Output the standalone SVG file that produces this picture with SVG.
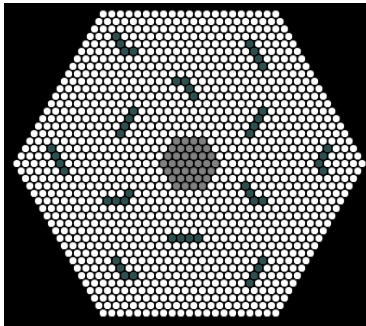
<svg xmlns="http://www.w3.org/2000/svg" width="366" height="326" viewBox="0 0 366 326">
<style>
.w{fill:#ffffff;stroke:#000000;stroke-width:1}
.g{fill:#808080;stroke:#000000;stroke-width:1}
.t{fill:#2f4f4f;stroke:#000000;stroke-width:1}
</style>
<rect x="0" y="0" width="366" height="326" fill="#ffffff"/>
<rect x="4" y="3" width="362" height="323" fill="#000000"/>
<g id="lattice" transform="translate(189.5,163.5)">
<defs>
<pattern id="pe" patternUnits="userSpaceOnUse" x="-4.315" y="-7.475" width="8.63" height="14.95"><circle cx="4.315" cy="7.475" r="4.1" class="w"/></pattern>
<pattern id="po" patternUnits="userSpaceOnUse" x="0" y="0" width="8.63" height="14.95"><circle cx="4.315" cy="7.475" r="4.1" class="w"/></pattern>
<pattern id="ge" patternUnits="userSpaceOnUse" x="-4.315" y="-7.475" width="8.63" height="14.95"><circle cx="4.315" cy="7.475" r="4.1" class="g"/></pattern>
<pattern id="go" patternUnits="userSpaceOnUse" x="0" y="0" width="8.63" height="14.95"><circle cx="4.315" cy="7.475" r="4.1" class="g"/></pattern>
</defs>
<g id="board">
<rect x="-90.615" y="-156.975" width="181.23" height="14.95" fill="url(#pe)"/>
<rect x="-94.93" y="-149.5" width="189.86" height="14.95" fill="url(#po)"/>
<rect x="-99.245" y="-142.025" width="198.49" height="14.95" fill="url(#pe)"/>
<rect x="-103.56" y="-134.55" width="207.12" height="14.95" fill="url(#po)"/>
<rect x="-107.875" y="-127.075" width="215.75" height="14.95" fill="url(#pe)"/>
<rect x="-112.19" y="-119.6" width="224.38" height="14.95" fill="url(#po)"/>
<rect x="-116.505" y="-112.125" width="233.01" height="14.95" fill="url(#pe)"/>
<rect x="-120.82" y="-104.65" width="241.64" height="14.95" fill="url(#po)"/>
<rect x="-125.135" y="-97.175" width="250.27" height="14.95" fill="url(#pe)"/>
<rect x="-129.45" y="-89.7" width="258.9" height="14.95" fill="url(#po)"/>
<rect x="-133.765" y="-82.225" width="267.53" height="14.95" fill="url(#pe)"/>
<rect x="-138.08" y="-74.75" width="276.16" height="14.95" fill="url(#po)"/>
<rect x="-142.395" y="-67.275" width="284.79" height="14.95" fill="url(#pe)"/>
<rect x="-146.71" y="-59.8" width="293.42" height="14.95" fill="url(#po)"/>
<rect x="-151.025" y="-52.325" width="302.05" height="14.95" fill="url(#pe)"/>
<rect x="-155.34" y="-44.85" width="310.68" height="14.95" fill="url(#po)"/>
<rect x="-159.655" y="-37.375" width="319.31" height="14.95" fill="url(#pe)"/>
<rect x="-163.97" y="-29.9" width="327.94" height="14.95" fill="url(#po)"/>
<rect x="-168.285" y="-22.425" width="336.57" height="14.95" fill="url(#pe)"/>
<rect x="-172.6" y="-14.95" width="345.2" height="14.95" fill="url(#po)"/>
<rect x="-176.915" y="-7.475" width="353.83" height="14.95" fill="url(#pe)"/>
<rect x="-172.6" y="0" width="345.2" height="14.95" fill="url(#po)"/>
<rect x="-168.285" y="7.475" width="336.57" height="14.95" fill="url(#pe)"/>
<rect x="-163.97" y="14.95" width="327.94" height="14.95" fill="url(#po)"/>
<rect x="-159.655" y="22.425" width="319.31" height="14.95" fill="url(#pe)"/>
<rect x="-155.34" y="29.9" width="310.68" height="14.95" fill="url(#po)"/>
<rect x="-151.025" y="37.375" width="302.05" height="14.95" fill="url(#pe)"/>
<rect x="-146.71" y="44.85" width="293.42" height="14.95" fill="url(#po)"/>
<rect x="-142.395" y="52.325" width="284.79" height="14.95" fill="url(#pe)"/>
<rect x="-138.08" y="59.8" width="276.16" height="14.95" fill="url(#po)"/>
<rect x="-133.765" y="67.275" width="267.53" height="14.95" fill="url(#pe)"/>
<rect x="-129.45" y="74.75" width="258.9" height="14.95" fill="url(#po)"/>
<rect x="-125.135" y="82.225" width="250.27" height="14.95" fill="url(#pe)"/>
<rect x="-120.82" y="89.7" width="241.64" height="14.95" fill="url(#po)"/>
<rect x="-116.505" y="97.175" width="233.01" height="14.95" fill="url(#pe)"/>
<rect x="-112.19" y="104.65" width="224.38" height="14.95" fill="url(#po)"/>
<rect x="-107.875" y="112.125" width="215.75" height="14.95" fill="url(#pe)"/>
<rect x="-103.56" y="119.6" width="207.12" height="14.95" fill="url(#po)"/>
<rect x="-99.245" y="127.075" width="198.49" height="14.95" fill="url(#pe)"/>
<rect x="-94.93" y="134.55" width="189.86" height="14.95" fill="url(#po)"/>
<rect x="-90.615" y="142.025" width="181.23" height="14.95" fill="url(#pe)"/>
</g>
<g id="core">
<rect x="-17.26" y="-29.9" width="34.52" height="14.95" fill="url(#go)"/>
<rect x="-21.575" y="-22.425" width="43.15" height="14.95" fill="url(#ge)"/>
<rect x="-25.89" y="-14.95" width="51.78" height="14.95" fill="url(#go)"/>
<rect x="-30.205" y="-7.475" width="60.41" height="14.95" fill="url(#ge)"/>
<rect x="-25.89" y="0" width="51.78" height="14.95" fill="url(#go)"/>
<rect x="-21.575" y="7.475" width="43.15" height="14.95" fill="url(#ge)"/>
<rect x="-17.26" y="14.95" width="34.52" height="14.95" fill="url(#go)"/>
</g>
<g id="seg1"><circle class="t" r="4.1" cx="-73.355" cy="-127.075"/><circle class="t" r="4.1" cx="-69.04" cy="-119.6"/><circle class="t" r="4.1" cx="-64.725" cy="-112.125"/><circle class="t" r="4.1" cx="-56.095" cy="-112.125"/></g>
<g id="seg2"><circle class="t" r="4.1" cx="-12.945" cy="-82.225"/><circle class="t" r="4.1" cx="-4.315" cy="-82.225"/><circle class="t" r="4.1" cx="0" cy="-74.75"/><circle class="t" r="4.1" cx="4.315" cy="-67.275"/></g>
<g id="seg3"><circle class="t" r="4.1" cx="-56.095" cy="-52.325"/><circle class="t" r="4.1" cx="-60.41" cy="-44.85"/><circle class="t" r="4.1" cx="-64.725" cy="-37.375"/><circle class="t" r="4.1" cx="-69.04" cy="-29.9"/></g>
<g id="seg4"><circle class="t" r="4.1" cx="-138.08" cy="-14.95"/><circle class="t" r="4.1" cx="-133.765" cy="-7.475"/><circle class="t" r="4.1" cx="-129.45" cy="0"/><circle class="t" r="4.1" cx="-125.135" cy="7.475"/></g>
<g id="seg5"><circle class="t" r="4.1" cx="60.41" cy="-119.6"/><circle class="t" r="4.1" cx="64.725" cy="-112.125"/><circle class="t" r="4.1" cx="69.04" cy="-104.65"/><circle class="t" r="4.1" cx="73.355" cy="-97.175"/></g>
<g id="seg6"><circle class="t" r="4.1" cx="73.355" cy="-52.325"/><circle class="t" r="4.1" cx="69.04" cy="-44.85"/><circle class="t" r="4.1" cx="64.725" cy="-37.375"/><circle class="t" r="4.1" cx="60.41" cy="-29.9"/></g>
<g id="seg7"><circle class="t" r="4.1" cx="138.08" cy="-14.95"/><circle class="t" r="4.1" cx="133.765" cy="-7.475"/><circle class="t" r="4.1" cx="129.45" cy="0"/><circle class="t" r="4.1" cx="133.765" cy="7.475"/></g>
<g id="seg8"><circle class="t" r="4.1" cx="-60.41" cy="29.9"/><circle class="t" r="4.1" cx="-64.725" cy="37.375"/><circle class="t" r="4.1" cx="-73.355" cy="37.375"/><circle class="t" r="4.1" cx="-81.985" cy="37.375"/></g>
<g id="seg9"><circle class="t" r="4.1" cx="-17.26" cy="74.75"/><circle class="t" r="4.1" cx="-8.63" cy="74.75"/><circle class="t" r="4.1" cx="0" cy="74.75"/><circle class="t" r="4.1" cx="8.63" cy="74.75"/></g>
<g id="seg10"><circle class="t" r="4.1" cx="-73.355" cy="97.175"/><circle class="t" r="4.1" cx="-69.04" cy="104.65"/><circle class="t" r="4.1" cx="-64.725" cy="112.125"/><circle class="t" r="4.1" cx="-56.095" cy="112.125"/></g>
<g id="seg11"><circle class="t" r="4.1" cx="56.095" cy="22.425"/><circle class="t" r="4.1" cx="60.41" cy="29.9"/><circle class="t" r="4.1" cx="64.725" cy="37.375"/><circle class="t" r="4.1" cx="73.355" cy="37.375"/></g>
<g id="seg12"><circle class="t" r="4.1" cx="73.355" cy="97.175"/><circle class="t" r="4.1" cx="69.04" cy="104.65"/><circle class="t" r="4.1" cx="64.725" cy="112.125"/><circle class="t" r="4.1" cx="60.41" cy="119.6"/></g>
</g>
</svg>
